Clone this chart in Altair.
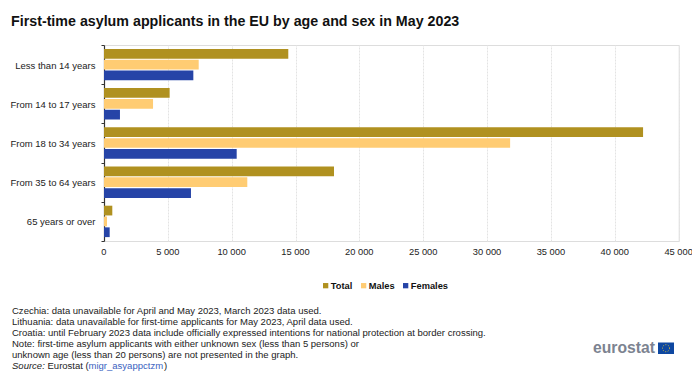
import altair as alt
import pandas as pd

ages = ["Less than 14 years", "From 14 to 17 years", "From 18 to 34 years", "From 35 to 64 years", "65 years or over"]
sexes = ["Total", "Males", "Females"]
colors = ["#B09120", "#FFCC73", "#2644A7"]
total = [14430, 5140, 42210, 18010, 650]
males = [7415, 3840, 31800, 11220, 235]
females = [6995, 1250, 10390, 6810, 445]
x_ticks = [0, 5000, 10000, 15000, 20000, 25000, 30000, 35000, 40000, 45000]

notes = [
    "Czechia: data unavailable for April and May 2023, March 2023 data used.",
    "Lithuania: data unavailable for first-time applicants for May 2023, April data used.",
    "Croatia: until February 2023 data include officially expressed intentions for national protection at border crossing.",
    "Note: first-time asylum applicants with either unknown sex (less than 5 persons) or",
    "unknown age (less than 20 persons) are not presented in the graph.",
]

rows = []
for i, a in enumerate(ages):
    for s, vals in zip(sexes, [total, males, females]):
        rows.append({"age": a, "sex": s, "value": vals[i]})
df = pd.DataFrame(rows)

FONT = "Liberation Sans"
W, H = 574.7, 196
L, T = 96, 37  # padding: plot origin minus the page margin

bars = alt.Chart(df).mark_bar(stroke=None).encode(
    x=alt.X("value:Q",
            scale=alt.Scale(domain=[0, 45000], nice=False),
            axis=alt.Axis(values=x_ticks, title=None, domain=False, ticks=False,
                          grid=True, gridColor="#E3E3E3", gridWidth=1, gridDash=[2, 1],
                          labelFont=FONT, labelFontSize=9.3, labelColor="#222222", labelPadding=6,
                          labelOffset=-0.6,
                          labelExpr="replace(format(datum.value, ','), ',', ' ')",
                          labelFlush=False, labelBound=False, labelOverlap=False)),
    y=alt.Y("age:N", sort=ages,
            scale=alt.Scale(paddingInner=0, paddingOuter=0),
            axis=alt.Axis(title=None, domain=True, domainColor="#333333", domainWidth=1.2,
                          ticks=True, tickColor="#333333", tickSize=3, tickBand="extent",
                          labelFont=FONT, labelFontSize=9.5, labelColor="#222222", labelPadding=6,
                          labelOffset=0.5)),
    yOffset=alt.YOffset("sex:N", sort=sexes,
                        scale=alt.Scale(paddingInner=0.1, paddingOuter=0.36)),
    color=alt.Color("sex:N", sort=sexes,
                    scale=alt.Scale(domain=sexes, range=colors),
                    legend=alt.Legend(orient="none", legendX=217, legendY=236,
                                      direction="horizontal", title=None, symbolType="square",
                                      symbolSize=28, symbolStrokeWidth=0, symbolOpacity=1,
                                      labelFont=FONT, labelFontSize=9.3, labelFontWeight="bold",
                                      labelColor="#111111", columnPadding=6, labelOffset=0.5,
                                      rowPadding=0)),
)

one = pd.DataFrame({"k": [0]})


def txt(text, px, py, size=9.52, color="#222222", **kw):
    return alt.Chart(one).mark_text(align="left", baseline="middle", font=FONT,
                                    fontSize=size, color=color, **kw).encode(
        x=alt.value(px - L - 8), y=alt.value(py - T - 8), text=alt.value(text))


layers = [bars]
for i, line in enumerate(notes):
    layers.append(txt(line, 12, 311 + i * 11))
layers += [
    txt("Source:", 12, 366, fontStyle="italic"),
    txt("Eurostat (", 47.5, 366),
    txt("migr_asyappctzm", 88.5, 366, color="#3A62C0"),
    txt(")", 164, 366),
    txt("eurostat", 593, 348, size=15.7, color="#7C8390", fontWeight="bold"),
]

flag = alt.Chart(one).mark_rect(color="#0E47A1").encode(
    x=alt.value(658 - L - 8), x2=alt.value(674 - L - 8),
    y=alt.value(342.5 - T - 8), y2=alt.value(354 - T - 8))
stars = alt.Chart(one).mark_point(shape="circle", filled=False, stroke="#E8C832",
                                  strokeWidth=1, strokeDash=[1, 1.6], size=50, opacity=1).encode(
    x=alt.value(666 - L - 8), y=alt.value(348.2 - T - 8))
layers += [flag, stars]

chart = alt.layer(*layers).resolve_scale(x="shared").properties(
    width=W, height=H,
    padding={"left": L, "top": T, "right": 13.3, "bottom": 130},
    autosize=alt.AutoSizeParams(type="none", contains="content"),
    title=alt.TitleParams("First-time asylum applicants in the EU by age and sex in May 2023",
                          font=FONT, fontSize=14.25, fontWeight="bold", color="#111111",
                          anchor="start", frame="group", dx=-93, offset=11),
).configure_view(stroke=None).configure(background="white")

chart.save("out.html", embed_options={"renderer": "svg", "actions": False})
